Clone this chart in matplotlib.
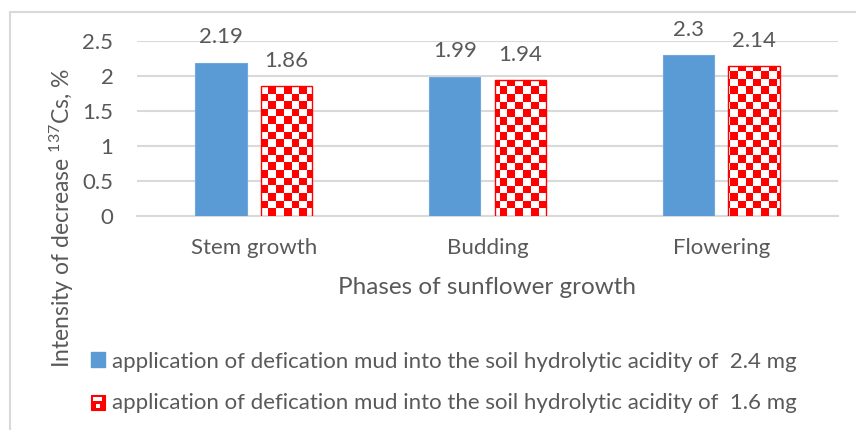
import numpy as np
import matplotlib
matplotlib.use("Agg")
import matplotlib.pyplot as plt
from matplotlib.patches import Rectangle, Patch
from matplotlib.colors import ListedColormap
from matplotlib.lines import Line2D

categories = ["Stem growth", "Budding", "Flowering"]
series1 = [2.19, 1.99, 2.3]
series2 = [1.86, 1.94, 2.14]
labels1 = ["2.19", "1.99", "2.3"]
labels2 = ["1.86", "1.94", "2.14"]
legend_labels = [
    "application of defication mud into the soil hydrolytic acidity of  2.4 mg",
    "application of defication mud into the soil hydrolytic acidity of  1.6 mg",
]
yticks = [0, 0.5, 1, 1.5, 2, 2.5]
ytick_labels = ["0", "0.5", "1", "1.5", "2", "2.5"]

FONT = "Lato"
plt.rcParams["font.family"] = [FONT, "DejaVu Sans"]
plt.rcParams["mathtext.fontset"] = "custom"
plt.rcParams["mathtext.rm"] = FONT
TXT = "#595959"
GRID = "#d9d9d9"
BLUE = "#5b9bd5"
RED = "#ff0000"

W, H = 856, 430
fig = plt.figure(figsize=(W / 100, H / 100), dpi=100)
ax = fig.add_axes([137 / W, 1 - 216 / H, (838 - 137) / W, 175 / H])

x = np.arange(len(categories))
bw = 0.22
off = 0.14
ax.set_xlim(-0.5, 2.5)
ax.set_ylim(0, 2.5)

b1 = ax.bar(x - off, series1, bw, color=BLUE, edgecolor="#6fa8dc", linewidth=0.8, zorder=3)
b2 = ax.bar(x + off, series2, bw, facecolor="none", edgecolor=RED, linewidth=1.0, zorder=4)

# checkerboard fill clipped to each red bar
cell = 7.7
ncols = int(round(701 / cell))
nrows = int(round(175 / cell))
checker = (np.add.outer(np.arange(nrows), np.arange(ncols)) % 2).astype(float)
cmap = ListedColormap(["#ffffff", RED])
for bar in b2:
    im = ax.imshow(checker, extent=(-0.5, 2.5, 0, 2.5), origin="lower", aspect="auto",
                   interpolation="nearest", cmap=cmap, vmin=0, vmax=1, zorder=3)
    im.set_clip_path(bar)
ax.set_xlim(-0.5, 2.5)
ax.set_ylim(0, 2.5)

for xi, v, s in zip(x - off, series1, labels1):
    ax.annotate(s, (xi, v), xytext=(0, 11), textcoords="offset points", ha="center",
                va="bottom", fontsize=16, color=TXT)
for xi, v, s in zip(x + off, series2, labels2):
    ax.annotate(s, (xi, v), xytext=(0, 11), textcoords="offset points", ha="center",
                va="bottom", fontsize=16, color=TXT)

ax.set_yticks(yticks)
ax.set_yticklabels(ytick_labels)
ax.set_xticks(x)
ax.set_xticklabels(categories)
ax.tick_params(axis="both", length=0, labelsize=16, labelcolor=TXT)
ax.tick_params(axis="y", pad=17)
ax.tick_params(axis="x", pad=16)
ax.grid(axis="y", color=GRID, linewidth=1.5, zorder=0)
ax.set_axisbelow(True)
for s in ["top", "right", "left"]:
    ax.spines[s].set_visible(False)
ax.spines["bottom"].set_color(GRID)
ax.spines["bottom"].set_linewidth(1.5)

fig.text((137 + 838) / 2 / W, 1 - 287 / H, "Phases of sunflower growth", ha="center",
         va="center", fontsize=17.5, color=TXT)
fig.text(62 / W, 1 - 218 / H, r"Intensity of decrease $\mathregular{^{137}}$Cs, %",
         rotation=90, ha="center", va="center", fontsize=16.5, color=TXT)

# border
fig.add_artist(Line2D([10 / W, 1], [1 - 12 / H, 1 - 12 / H], color=GRID, lw=1.5))
fig.add_artist(Line2D([10 / W, 10 / W], [1 - 12 / H, 0], color=GRID, lw=1.5))


class CheckerHandler:
    def legend_artist(self, legend, orig_handle, fontsize, handlebox):
        x0, y0 = handlebox.xdescent, handlebox.ydescent
        w, h = handlebox.width, handlebox.height
        tr = handlebox.get_transform()
        outer = Rectangle((x0, y0), w, h, facecolor=RED, edgecolor=RED, lw=0.8, transform=tr)
        handlebox.add_artist(outer)
        handlebox.add_artist(Rectangle((x0 + 0.2 * w, y0 + 0.55 * h), 0.6 * w, 0.3 * h,
                                       facecolor="white", edgecolor="none", transform=tr))
        handlebox.add_artist(Rectangle((x0 + 0.35 * w, y0 + 0.12 * h), 0.3 * w, 0.28 * h,
                                       facecolor="white", edgecolor="none", transform=tr))
        return outer


h1 = Patch(facecolor=BLUE, edgecolor=BLUE)
h2 = Patch(facecolor=RED, edgecolor=RED)
leg = fig.legend([h1, h2], legend_labels, loc="upper left",
                 bbox_to_anchor=(75 / W, 1 - 336 / H), frameon=False, fontsize=16,
                 handlelength=0.66, handleheight=0.66, handletextpad=0.3,
                 labelspacing=0.98, labelcolor=TXT, borderpad=0.2,
                 handler_map={h2: CheckerHandler()})

fig.savefig("out.png", dpi=100)
